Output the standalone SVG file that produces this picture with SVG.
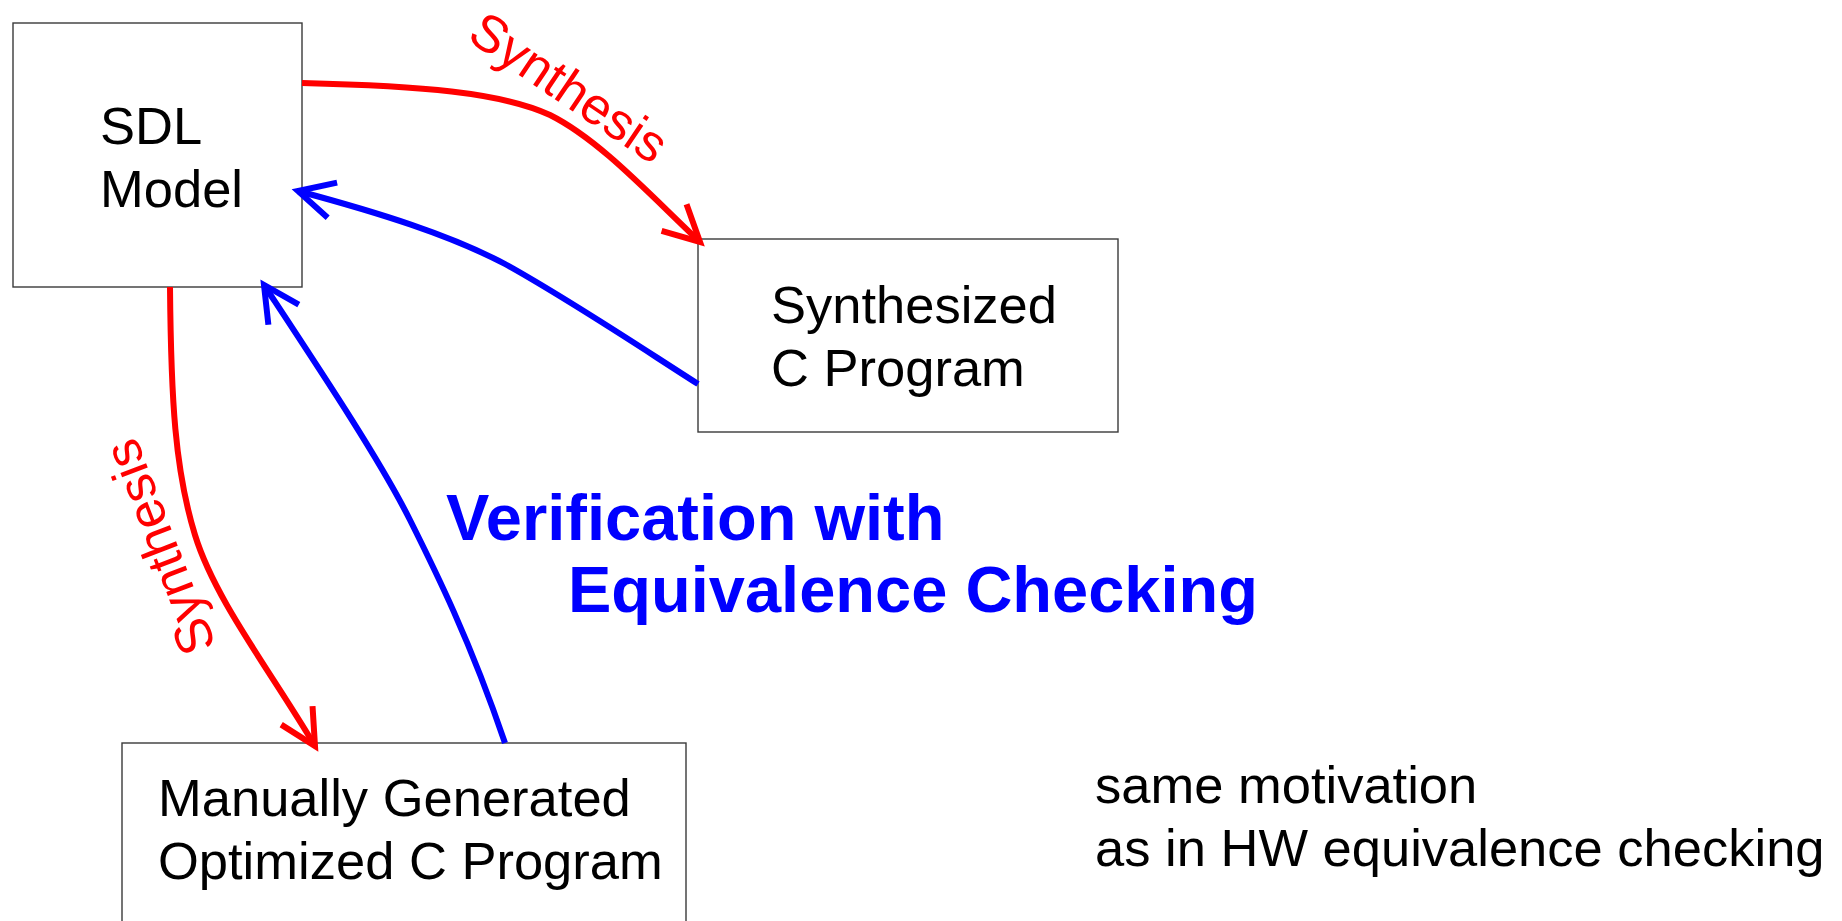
<svg xmlns="http://www.w3.org/2000/svg" width="1842" height="921" viewBox="0 0 1842 921">
  <style>
    .box { fill: #ffffff; stroke: #3a3a3a; stroke-width: 1.4; }
    .label { font-family: "Liberation Sans", Arial, sans-serif; font-size: 52.5px; fill: #000000; }
    .syn { font-family: "Liberation Sans", Arial, sans-serif; font-size: 52px; fill: #ff0000; }
    .verif { font-family: "Liberation Sans", Arial, sans-serif; font-size: 65px; font-weight: bold; fill: #0000ff; }
    .red { fill: none; stroke: #ff0000; stroke-width: 6; }
    .blue { fill: none; stroke: #0000ff; stroke-width: 6; }
  </style>
  <defs>
    <marker id="arrow-red" markerUnits="userSpaceOnUse" orient="auto" markerWidth="60" markerHeight="60" refX="0" refY="0" viewBox="-45 -30 60 60" overflow="visible">
      <path d="M-35.6,-18.2 L0,0 L-35.6,18.2" fill="none" stroke="#ff0000" stroke-width="6"/>
    </marker>
    <marker id="arrow-blue" markerUnits="userSpaceOnUse" orient="auto" markerWidth="60" markerHeight="60" refX="0" refY="0" viewBox="-45 -30 60 60" overflow="visible">
      <path d="M-35.6,-18.2 L0,0 L-35.6,18.2" fill="none" stroke="#0000ff" stroke-width="6"/>
    </marker>
  </defs>

  <rect width="1842" height="921" fill="#ffffff"/>

  <!-- nodes -->
  <g id="sdl-model">
    <rect class="box" x="13" y="23" width="289" height="264"/>
    <text class="label" x="100" y="144">SDL</text>
    <text class="label" x="100" y="207">Model</text>
  </g>

  <g id="synthesized-c">
    <rect class="box" x="698" y="239" width="420" height="193"/>
    <text class="label" x="771" y="323">Synthesized</text>
    <text class="label" x="771" y="386">C Program</text>
  </g>

  <g id="manual-c">
    <rect class="box" x="122" y="743" width="564" height="200"/>
    <text class="label" x="158" y="816">Manually Generated</text>
    <text class="label" x="158" y="879">Optimized C Program</text>
  </g>

  <!-- connectors -->
  <g id="connectors">
    <path class="red" d="M302,83 C420,86 500,92 550,115 C600,140 650,195 700,242" marker-end="url(#arrow-red)"/>
    <path class="blue" d="M698,384 C640,347 570,300 505,264 C450,235 380,213 298,191" marker-end="url(#arrow-blue)"/>
    <path class="red" d="M170,287 C171,400 175,470 195,535 C215,600 270,670 315,746" marker-end="url(#arrow-red)"/>
    <path class="blue" d="M505,743 C470,640 435,570 410,520 C380,460 320,370 264,285" marker-end="url(#arrow-blue)"/>
  </g>

  <!-- connector labels -->
  <g id="labels">
    <text class="syn" text-anchor="middle" transform="translate(559,102) rotate(34)">Synthesis</text>
    <text class="syn" text-anchor="middle" transform="translate(176,541) rotate(-111)">Synthesis</text>
    <text class="verif" x="446" y="540">Verification with</text>
    <text class="verif" x="568" y="612">Equivalence Checking</text>
  </g>

  <!-- note -->
  <g id="note">
    <text class="label" x="1095" y="803">same motivation</text>
    <text class="label" x="1095" y="866">as in HW equivalence checking</text>
  </g>
</svg>
